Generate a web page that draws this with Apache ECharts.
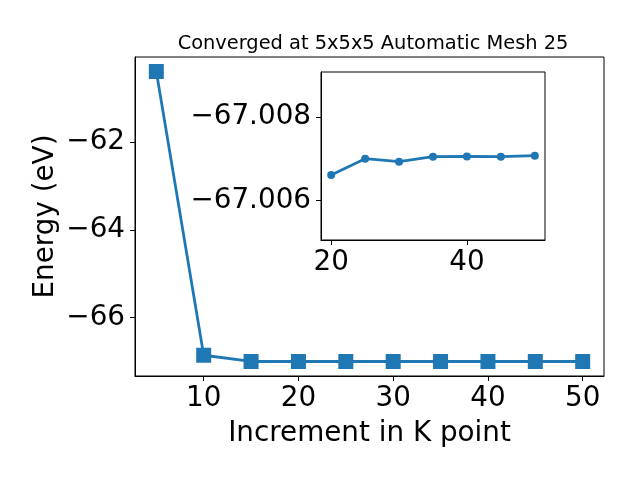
<!DOCTYPE html>
<html>
<head>
<meta charset="utf-8">
<script src="https://cdn.jsdelivr.net/npm/echarts@6/dist/echarts.min.js"></script>
<style>html,body{margin:0;padding:0;background:#fff}#c{width:640px;height:480px}</style>
</head>
<body>
<div id="c"></div>
<script>
const titleText = "Converged at 5x5x5 Automatic Mesh 25";
const xLabel = "Increment in K point";
const yLabel = "Energy (eV)";
const kPoints = [5, 10, 15, 20, 25, 30, 35, 40, 45, 50];
const energies = [-60.386, -66.864, -67.0066, -67.00661, -67.00700, -67.00693, -67.00705, -67.00706, -67.00705, -67.00708];
const insetK = [20, 25, 30, 35, 40, 45, 50];
const insetE = [-67.006614, -67.007004, -67.006932, -67.007051, -67.007059, -67.007051, -67.007075];
const mainXTicks = [10, 20, 30, 40, 50];
const mainYTicks = [-66, -64, -62];
const insetXTicks = [20, 40];
const insetYTicks = [-67.008, -67.006];

const font = 'DejaVu Sans';
const color = '#1f77b4';
const fs = 27.8;
const minus = s => String(s).replace('-', '\u2212');

const chart = echarts.init(document.getElementById('c'), null, {renderer: 'canvas'});
const axisCommon = {
  axisLine: {show: true, onZero: false, lineStyle: {color: '#000', width: 1}},
  splitLine: {show: false},
  axisTick: {show: true, inside: false, length: 5, lineStyle: {color: '#000', width: 1}},
};
chart.setOption({
  animation: false,
  title: {
    text: titleText, left: 368, top: 29, textAlign: 'center',
    textStyle: {fontFamily: font, fontSize: 19.4, fontWeight: 'normal', color: '#000'}
  },
  grid: [
    {left: 135, right: 36, top: 57, bottom: 104, show: true, borderColor: '#000', borderWidth: 1, backgroundColor: 'transparent'},
    {left: 321, top: 72, width: 224, height: 168, show: true, borderColor: '#000', borderWidth: 1, backgroundColor: '#fff'}
  ],
  xAxis: [
    Object.assign({}, axisCommon, {
      type: 'value', gridIndex: 0, min: 2.75, max: 52.25,
      name: xLabel, nameLocation: 'middle', nameGap: 44,
      nameTextStyle: {fontFamily: font, fontSize: fs, color: '#000'},
      axisTick: Object.assign({}, axisCommon.axisTick, {customValues: mainXTicks}),
      axisLabel: {customValues: mainXTicks, fontFamily: font, fontSize: fs, color: '#000', margin: 9}
    }),
    Object.assign({}, axisCommon, {
      type: 'value', gridIndex: 1, min: 18.5, max: 51.5,
      axisTick: Object.assign({}, axisCommon.axisTick, {customValues: insetXTicks}),
      axisLabel: {customValues: insetXTicks, fontFamily: font, fontSize: fs, color: '#000', margin: 9}
    })
  ],
  yAxis: [
    Object.assign({}, axisCommon, {
      type: 'value', gridIndex: 0, min: -67.338, max: -60.055,
      name: yLabel, nameLocation: 'middle', nameGap: 75, nameRotate: 90, nameMoveOverlap: false,
      nameTextStyle: {fontFamily: font, fontSize: fs, color: '#000', verticalAlign: 'bottom'},
      axisTick: Object.assign({}, axisCommon.axisTick, {customValues: mainYTicks}),
      axisLabel: {customValues: mainYTicks, fontFamily: font, fontSize: fs, color: '#000', margin: 10,
        formatter: v => minus(v)}
    }),
    Object.assign({}, axisCommon, {
      type: 'value', gridIndex: 1, min: -67.009075, max: -67.005061, inverse: true,
      axisTick: Object.assign({}, axisCommon.axisTick, {customValues: insetYTicks}),
      axisLabel: {customValues: insetYTicks, fontFamily: font, fontSize: fs, color: '#000', margin: 10,
        formatter: v => minus(Number(v).toFixed(3))}
    })
  ],
  series: [
    {
      type: 'line', xAxisIndex: 0, yAxisIndex: 0,
      data: kPoints.map((k, i) => [k, energies[i]]),
      symbol: 'rect', symbolSize: 15,
      lineStyle: {color: color, width: 2.8},
      itemStyle: {color: color, borderWidth: 0},
      z: 2
    },
    {
      type: 'line', xAxisIndex: 1, yAxisIndex: 1,
      data: insetK.map((k, i) => [k, insetE[i]]),
      symbol: 'circle', symbolSize: 8,
      lineStyle: {color: color, width: 2.8},
      itemStyle: {color: color, borderWidth: 0},
      z: 5
    }
  ]
});
</script>
</body>
</html>
